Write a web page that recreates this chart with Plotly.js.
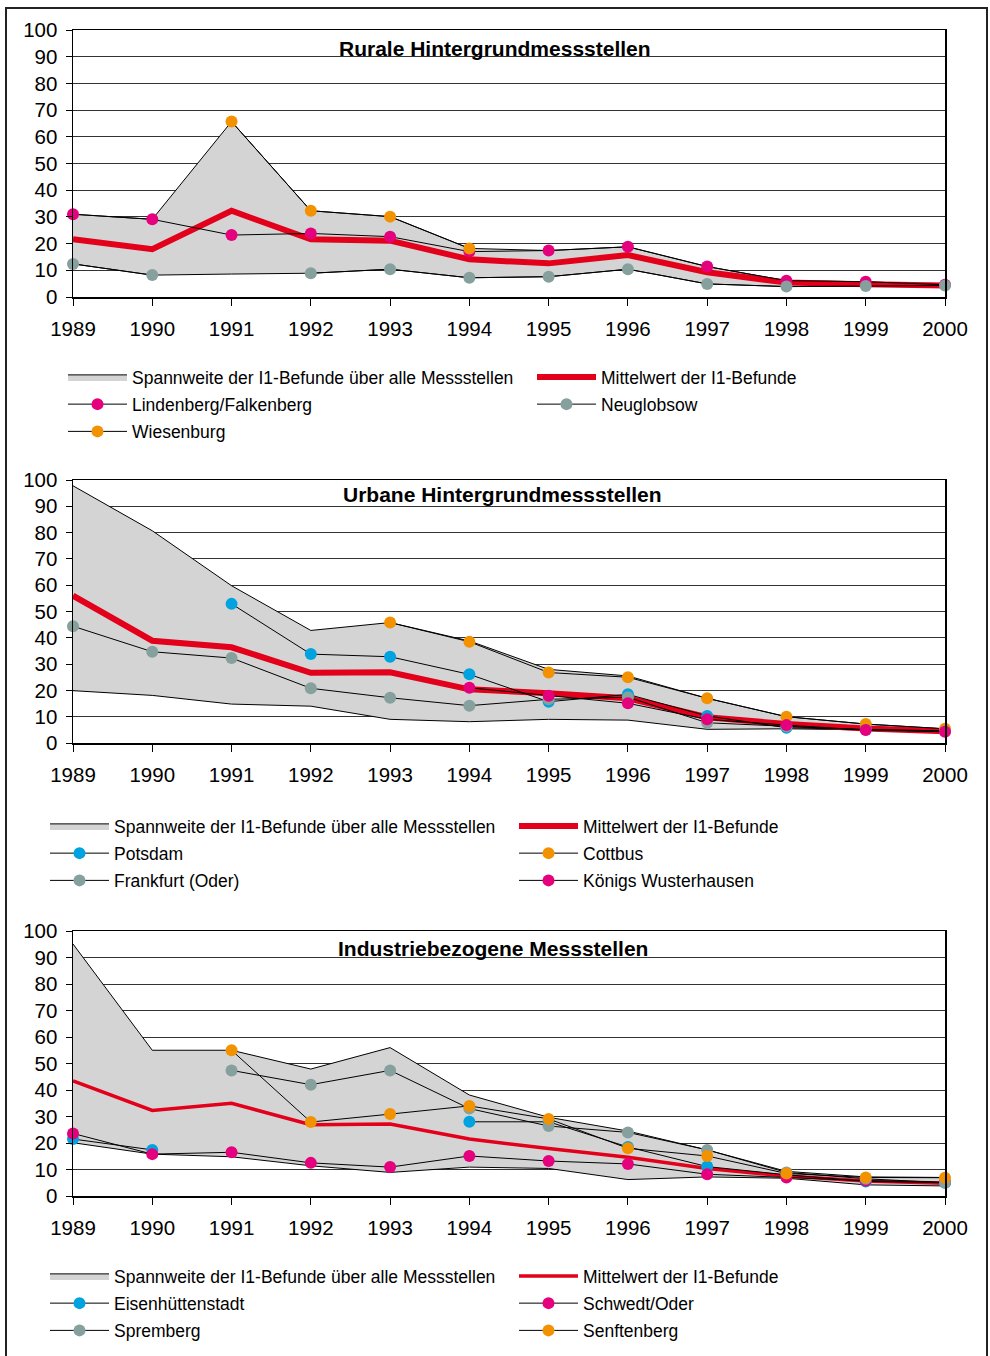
<!DOCTYPE html>
<html>
<head>
<meta charset="utf-8">
<script src="https://cdn.plot.ly/plotly-3.0.1.min.js"></script>
<style>
  html, body { margin: 0; padding: 0; background: #fff; }
  #wrap { position: relative; width: 990px; height: 1356px; overflow: hidden; }
  #chart { position: absolute; left: 0; top: 0; width: 990px; height: 1356px; }
  #frame { position: absolute; left: 5px; top: 7px; width: 979px; height: 1400px; border: 2px solid #222; pointer-events: none; }
</style>
</head>
<body>
<div id="wrap">
  <div id="chart"></div>
  <div id="frame"></div>
</div>
<script>
// ---------- data ----------
var years = [1989, 1990, 1991, 1992, 1993, 1994, 1995, 1996, 1997, 1998, 1999, 2000];
var yearLabels = ["1989","1990","1991","1992","1993","1994","1995","1996","1997","1998","1999","2000"];

// Rurale Hintergrundmessstellen
var ruralMax  = [31.0, 29.1, 65.7, 32.3, 30.1, 18.2, 17.4, 18.8, 11.4, 6.1, 5.7, 4.6];
var ruralMin  = [12.4, 8.2, 8.6, 8.9, 10.4, 7.2, 7.6, 10.4, 4.9, 3.9, 4.0, 4.3];
var ruralMean = [21.6, 17.9, 32.3, 21.6, 21.1, 14.1, 12.6, 15.7, 9.3, 5.4, 4.8, 4.3];
var lindenberg = [31.0, 29.1, 23.2, 23.8, 22.6, 17.0, 17.4, 18.8, 11.4, 6.1, 5.7, 4.6];
var neuglobsow = [12.4, 8.2, null, 8.9, 10.4, 7.2, 7.6, 10.4, 4.9, 3.9, 4.1, 4.3];
var wiesenburg = [null, null, 65.7, 32.3, 30.1, 18.2, null, null, null, null, null, null];

// Urbane Hintergrundmessstellen
var urbanMax  = [97.8, 80.7, 59.8, 42.8, 45.8, 38.8, 28.0, 25.5, 17.0, 10.0, 7.2, 5.4];
var urbanMin  = [19.9, 18.1, 14.8, 14.0, 9.0, 8.1, 9.0, 8.7, 5.2, 5.4, 5.0, 4.2];
var urbanMean = [56.0, 38.9, 36.4, 26.7, 26.9, 20.4, 18.9, 17.0, 9.8, 7.2, 5.5, 4.5];
var potsdam   = [null, null, 52.9, 33.8, 32.8, 26.1, 15.7, 18.5, 10.3, 5.8, 5.2, 4.6];
var cottbus   = [null, null, null, null, 45.8, 38.5, 26.8, 25.0, 17.0, 10.0, 7.2, 5.4];
var frankfurt = [44.4, 34.7, 32.3, 20.8, 17.2, 14.2, 16.6, 17.4, 7.7, 6.4, 5.0, 4.5];
var koenigs   = [null, null, null, null, null, 21.0, 18.0, 15.1, 9.0, 6.8, 4.9, 4.3];

// Industriebezogene Messstellen
var indMax  = [95.1, 55.0, 55.0, 47.9, 56.0, 38.1, 29.7, 24.5, 17.4, 9.3, 7.2, 7.0];
var indMin  = [20.1, 15.8, 14.8, 11.4, 8.9, 10.9, 10.4, 6.2, 7.2, 6.7, 4.2, 3.8];
var indMean = [43.4, 32.3, 35.0, 26.9, 27.2, 21.5, 17.9, 14.6, 10.4, 7.5, 5.7, 4.8];
var eisen       = [21.5, 17.4, null, null, null, 28.0, 28.0, 18.5, 11.1, 8.0, 5.5, 5.0];
var schwedt     = [23.6, 15.8, 16.5, 12.5, 10.9, 15.1, 13.2, 12.1, 8.2, 7.0, 5.8, 5.2];
var spremberg   = [null, null, 47.4, 42.0, 47.4, 33.0, 26.4, 24.0, 17.4, 8.9, 6.5, 5.0];
var senftenberg = [null, null, 55.0, 27.9, 30.9, 34.0, 29.1, 18.0, 15.1, 8.5, 7.0, 6.9];

var rangeName = "Spannweite der I1-Befunde über alle Messstellen";
var meanName = "Mittelwert der I1-Befunde";

// ---------- styling ----------
var C = { pink: "#E5007D", orange: "#F39200", gray: "#86A09E", blue: "#00A3E0", red: "#E2001A", fill: "#D4D4D4" };
var FONT = "Liberation Sans, Arial, sans-serif";
var gid = 0;

function rangeTraces(minArr, maxArr, ax, lg) {
  return [
    { x: years, y: minArr, xaxis: "x" + ax, yaxis: "y" + ax, mode: "lines",
      line: { color: "#000", width: 1 }, showlegend: false, hoverinfo: "skip", legend: lg },
    { x: years, y: maxArr, xaxis: "x" + ax, yaxis: "y" + ax, mode: "lines", fill: "tonexty",
      fillcolor: C.fill, line: { color: "#000", width: 1 }, name: rangeName, legend: lg,
      legendgroup: "g" + (gid++) }
  ];
}
function meanTrace(arr, ax, lg, w) {
  return { x: years, y: arr, xaxis: "x" + ax, yaxis: "y" + ax, mode: "lines",
    line: { color: C.red, width: w }, name: meanName, legend: lg, cliponaxis: false,
    legendgroup: "g" + (gid++) };
}
function station(arr, name, color, ax, lg) {
  return { x: years, y: arr, xaxis: "x" + ax, yaxis: "y" + ax, mode: "lines+markers",
    line: { color: "#000", width: 1 }, marker: { color: color, size: 12 },
    name: name, legend: lg, cliponaxis: false, connectgaps: false,
    legendgroup: "g" + (gid++) };
}

var data = [].concat(
  rangeTraces(ruralMin, ruralMax, "", "legend"),
  [meanTrace(ruralMean, "", "legend2", 6),
   station(lindenberg, "Lindenberg/Falkenberg", C.pink, "", "legend"),
   station(neuglobsow, "Neuglobsow", C.gray, "", "legend2"),
   station(wiesenburg, "Wiesenburg", C.orange, "", "legend")],
  rangeTraces(urbanMin, urbanMax, "2", "legend3"),
  [meanTrace(urbanMean, "2", "legend4", 6),
   station(potsdam, "Potsdam", C.blue, "2", "legend3"),
   station(cottbus, "Cottbus", C.orange, "2", "legend4"),
   station(frankfurt, "Frankfurt (Oder)", C.gray, "2", "legend3"),
   station(koenigs, "Königs Wusterhausen", C.pink, "2", "legend4")],
  rangeTraces(indMin, indMax, "3", "legend5"),
  [meanTrace(indMean, "3", "legend6", 3.5),
   station(eisen, "Eisenhüttenstadt", C.blue, "3", "legend5"),
   station(schwedt, "Schwedt/Oder", C.pink, "3", "legend6"),
   station(spremberg, "Spremberg", C.gray, "3", "legend5"),
   station(senftenberg, "Senftenberg", C.orange, "3", "legend6")]
);

var H = 1356;
function dom(topPx, botPx) { return [1 - botPx / H, 1 - topPx / H]; }

function xAxis(anchor) {
  return { anchor: anchor, domain: [0, 1], range: [1989, 2000], tickvals: years, ticktext: yearLabels,
    showgrid: false, zeroline: false, showline: true, linecolor: "#000", linewidth: 1.5, mirror: true,
    ticks: "outside", ticklen: 7, tickcolor: "#000", tickwidth: 1, ticklabelstandoff: 6,
    tickfont: { family: FONT, size: 20.5, color: "#000" }, fixedrange: true };
}
function yAxis(anchor, d) {
  return { anchor: anchor, domain: d, range: [0, 100], dtick: 10, tick0: 0,
    showgrid: true, gridcolor: "#333", gridwidth: 1, zeroline: false,
    showline: true, linecolor: "#000", linewidth: 1.5, mirror: true,
    ticks: "outside", ticklen: 6, tickcolor: "#000", ticklabelstandoff: 4,
    tickfont: { family: FONT, size: 20.5, color: "#000" }, fixedrange: true };
}
function legend(xPx, firstRowCenterPx) {
  return { orientation: "v", x: (xPx - 73) / 872, xanchor: "left",
    y: 1 - (firstRowCenterPx - 18) / H, yanchor: "top",
    itemwidth: 59, traceorder: "grouped", tracegroupgap: 1.5,
    font: { family: FONT, size: 17.5, color: "#000" }, bgcolor: "rgba(0,0,0,0)", borderwidth: 0 };
}
function title(text, xPx, yPx) {
  return { text: "<b>" + text + "</b>", xref: "paper", yref: "paper", x: (xPx - 73) / 872, y: 1 - yPx / H,
    xanchor: "center", yanchor: "middle", showarrow: false,
    font: { family: FONT, size: 21, color: "#000" } };
}

var layout = {
  width: 990, height: 1356,
  margin: { l: 73, r: 45, t: 0, b: 0, autoexpand: false },
  paper_bgcolor: "#fff", plot_bgcolor: "#fff",
  font: { family: FONT, color: "#000" },
  showlegend: true,
  xaxis: xAxis("y"), yaxis: yAxis("x", dom(30, 297)),
  xaxis2: xAxis("y2"), yaxis2: yAxis("x2", dom(480, 743)),
  xaxis3: xAxis("y3"), yaxis3: yAxis("x3", dom(931, 1196)),
  legend:  legend(63, 377),
  legend2: legend(532, 377),
  legend3: legend(45, 826),
  legend4: legend(514, 826),
  legend5: legend(45, 1276),
  legend6: legend(514, 1276),
  annotations: [
    title("Rurale Hintergrundmessstellen", 495, 48),
    title("Urbane Hintergrundmessstellen", 502, 495),
    title("Industriebezogene Messstellen", 493, 948)
  ]
};

Plotly.newPlot("chart", data, layout, { staticPlot: true, displayModeBar: false });
</script>
</body>
</html>
